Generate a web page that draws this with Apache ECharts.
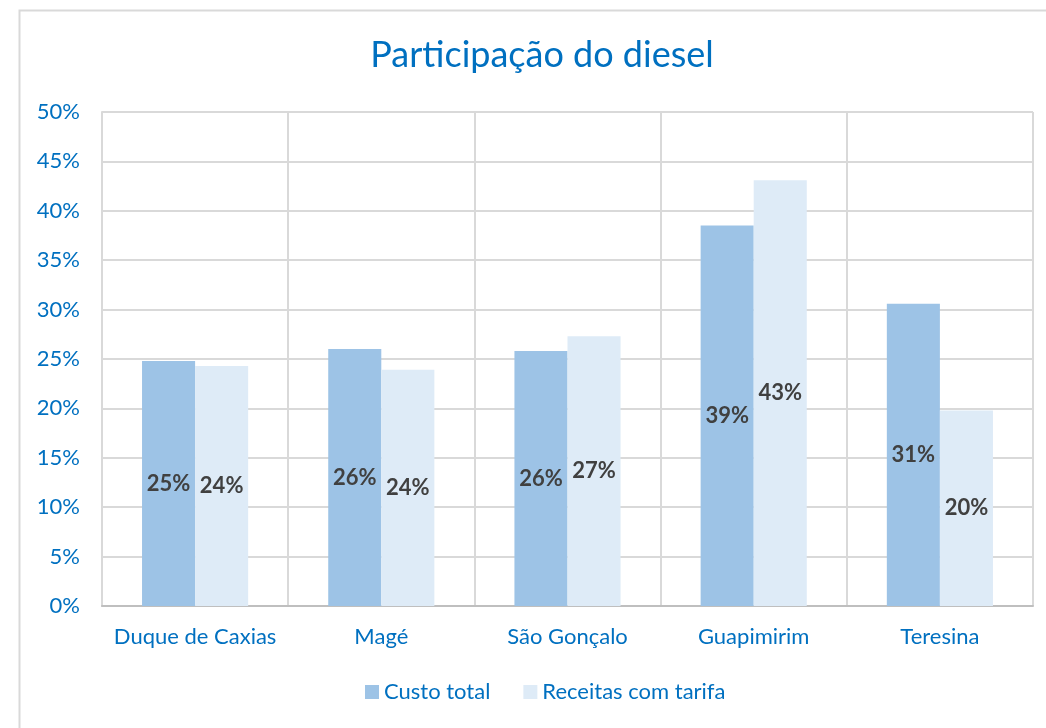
<!DOCTYPE html>
<html>
<head>
<meta charset="utf-8">
<script src="https://cdn.jsdelivr.net/npm/echarts@6/dist/echarts.min.js"></script>
<style>
  html, body { margin: 0; padding: 0; background: #fff; }
  #main { width: 1046px; height: 728px; }
</style>
</head>
<body>
<div id="main"></div>
<script>
// data (percent)
const cities = ['Duque de Caxias', 'Magé', 'São Gonçalo', 'Guapimirim', 'Teresina'];
const custoTotal = [24.8, 26.0, 25.8, 38.5, 30.6];
const receitasTarifa = [24.3, 23.9, 27.3, 43.1, 19.8];

const blue = '#0070c0';
const font = 'Lato, "Open Sans", sans-serif';

var myChart = echarts.init(document.getElementById('main'));

const barLabel = {
  show: true,
  position: 'inside',
  color: '#404040',
  fontWeight: 'bold',
  fontSize: 22,
  fontFamily: font,
  formatter: p => Math.round(p.value) + '%'
};

myChart.setOption({
  animation: false,
  textStyle: { fontFamily: font },
  // outer frame: only top and left edges are visible in the picture
  graphic: [{
    type: 'polyline',
    shape: { points: [[19.5, 728], [19.5, 10.5], [1046, 10.5]] },
    style: { fill: null, stroke: '#d9d9d9', lineWidth: 2 },
    silent: true
  }],
  title: {
    text: 'Participação do diesel',
    left: 537,
    textAlign: 'center',
    top: 32,
    textStyle: { color: blue, fontSize: 36, fontWeight: 'normal', fontFamily: font }
  },
  legend: {
    bottom: 20,
    left: 360,
    itemWidth: 14,
    itemHeight: 14,
    itemGap: 33,
    icon: 'rect',
    textStyle: { color: blue, fontSize: 22, fontFamily: font },
    data: ['Custo total', 'Receitas com tarifa']
  },
  grid: { left: 102, right: 13, top: 112, bottom: 122, containLabel: false },
  xAxis: {
    type: 'category',
    data: cities,
    axisTick: { show: false },
    axisLine: { lineStyle: { color: '#bfbfbf', width: 2 } },
    splitLine: { show: true, interval: 0, lineStyle: { color: '#d9d9d9', width: 2 } },
    axisLabel: { color: blue, fontSize: 22, margin: 20, interval: 0, fontFamily: font }
  },
  yAxis: {
    type: 'value',
    min: 0,
    max: 50,
    interval: 5,
    axisLine: { show: true, lineStyle: { color: '#d9d9d9', width: 2 } },
    axisTick: { show: false },
    splitLine: { lineStyle: { color: '#d9d9d9', width: 2 } },
    axisLabel: { color: blue, fontSize: 22, margin: 22, fontFamily: font, formatter: '{value}%' }
  },
  series: [
    {
      name: 'Custo total',
      type: 'bar',
      data: custoTotal,
      barGap: '0%',
      barCategoryGap: '43%',
      itemStyle: { color: '#9dc3e6' },
      label: barLabel
    },
    {
      name: 'Receitas com tarifa',
      type: 'bar',
      data: receitasTarifa,
      itemStyle: { color: '#deebf7' },
      label: barLabel
    }
  ]
});
</script>
</body>
</html>
